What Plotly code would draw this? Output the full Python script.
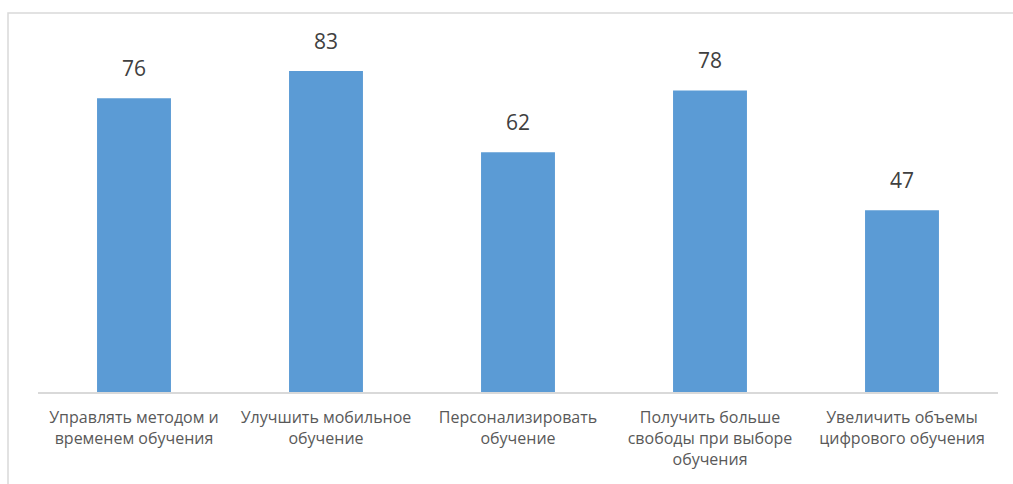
import plotly.graph_objects as go

categories = [
    "Управлять методом и<br>временем обучения",
    "Улучшить мобильное<br>обучение",
    "Персонализировать<br>обучение",
    "Получить больше<br>свободы при выборе<br>обучения",
    "Увеличить объемы<br>цифрового обучения",
]
values = [76, 83, 62, 78, 47]

W, H = 1013, 484
L, R, T, B = 38, 15, 44, 92
pw = W - L - R
ph = H - T - B

fig = go.Figure()
fig.add_trace(go.Bar(
    x=categories, y=values,
    marker=dict(color="#5B9BD5", line=dict(width=0)),
    width=0.385,
    hoverinfo="skip",
))

for c, v in zip(categories, values):
    fig.add_annotation(
        x=c, y=v, text=str(v), showarrow=False,
        yanchor="bottom", yshift=14,
        font=dict(family="Open Sans", size=21, color="#404040"),
    )

# chart border (only left and top edges fall inside the image)
bx0 = (8 - L) / pw
bx1 = (W + 40 - L) / pw
by0 = (H - B - (H + 40)) / ph
by1 = (H - B - 13) / ph
fig.add_shape(type="path", xref="paper", yref="paper",
              path=f"M {bx0},{by0} L {bx0},{by1} L {bx1},{by1}",
              line=dict(color="#D9D9D9", width=1.5), layer="above")
# white mask on the far right strip (below the top border)
fig.add_shape(type="rect", xref="paper", yref="paper",
              x0=(1000 - L) / pw, x1=(W + 40 - L) / pw,
              y0=by0, y1=(H - B - 15) / ph,
              line=dict(width=0), fillcolor="white", layer="above")

fig.update_layout(
    width=W, height=H,
    margin=dict(l=L, r=R, t=T, b=B),
    paper_bgcolor="white", plot_bgcolor="white",
    showlegend=False,
    bargap=0.615,
    xaxis=dict(
        showline=True, linecolor="#D9D9D9", linewidth=1.5,
        showgrid=False, zeroline=False, ticks="",
        tickfont=dict(family="Open Sans", size=16, color="#595959"),
        ticklabelstandoff=10,
    ),
    yaxis=dict(range=[0, 90], visible=False, showgrid=False, zeroline=False),
)

fig.write_html("out.html")
